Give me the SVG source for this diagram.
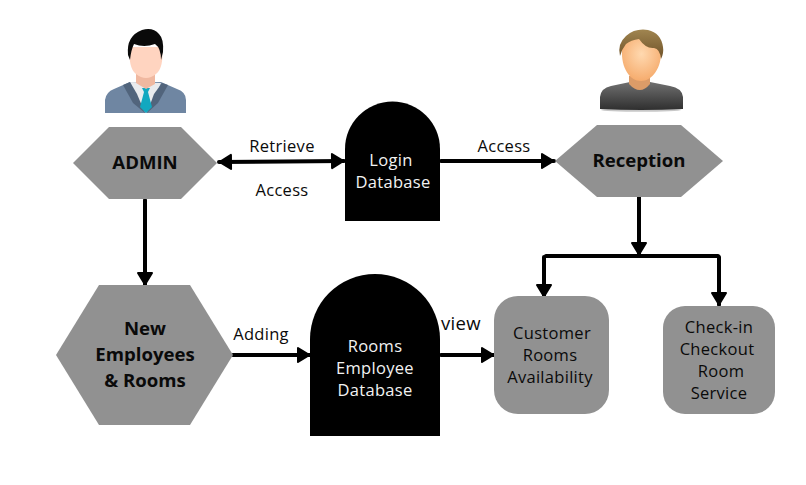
<svg xmlns="http://www.w3.org/2000/svg" width="806" height="485" viewBox="0 0 806 485">
<style>
text{font-family:"Open Sans","Noto Sans","Liberation Sans",sans-serif;text-anchor:middle;fill:#0a0a0a;font-size:16.5px;letter-spacing:.3px}
.b{font-weight:700;font-size:18.6px;letter-spacing:0}
.w{fill:#f2f2f2}
.g{fill:#919191}
.k{fill:#000}
.c{stroke:#000;stroke-width:4;fill:none;stroke-linecap:round}
</style>
<defs>
<marker id="a" markerUnits="userSpaceOnUse" markerWidth="16" markerHeight="18" refX="15" refY="9" orient="auto-start-reverse"><path d="M3 2L14.500 9L3 16Z" fill="#000" stroke="#000" stroke-width="2" stroke-linejoin="round"/></marker>
<linearGradient id="shirt" x1="0" y1="0" x2="0" y2="1"><stop offset="0" stop-color="#707070"/><stop offset="1" stop-color="#2f2f2f"/></linearGradient>
<radialGradient id="face" cx=".5" cy=".4" r=".65"><stop offset="0" stop-color="#ffd9b0"/><stop offset="1" stop-color="#f5a868"/></radialGradient>
<linearGradient id="hair" x1="0" y1="0" x2="0" y2="1"><stop offset="0" stop-color="#a08550"/><stop offset="1" stop-color="#6e5128"/></linearGradient>
</defs>
<rect width="806" height="485" fill="#fff"/>
<g id="admin-figure">
<path d="M105 113V100Q106 92 114 89L130 82H161L177 89Q186 92 186 100V113Z" fill="#6f86a2"/>
<path d="M130 82L161 83L152 104L146 113L139 104Z" fill="#e9ebee"/>
<path d="M130 82L123 85L133 103L145 113L137 94Z" fill="#51647c"/>
<path d="M162 83L168 85L158 103L147 113L154 94Z" fill="#51647c"/>
<path d="M142 88H150L148 92L152 107L146 113L140 107L144 92Z" fill="#12a8c0"/>
<path d="M136 70H155V84L146 89L136 83Z" fill="#f0b8a0"/>
<path d="M130 47H162Q164 68 156 74Q146 82 136 74Q128 68 130 47Z" fill="#ffd4c0"/>
<path d="M128 55Q126 36 142 30Q153 27 159 34Q164 39 163 52L161 60Q161 48 155 44Q144 48 134 44Q131 50 130 60Z" fill="#0a0a0a"/>
</g>
<g id="reception-figure">
<ellipse cx="641" cy="110" rx="40" ry="1.800" fill="#c8c8c8"/>
<path d="M600 109V97Q601 88 611 86L630 82H650L670 86Q682 88 683 97V109Q641 111 600 109Z" fill="url(#shirt)"/>
<path d="M629 76H650V84Q640 96 629 84Z" fill="#dc9c68"/>
<path d="M622 50C621 68 630 81 641 81C652 81 662 68 661 50C661 38 651 36 641 36C631 36 622 38 622 50Z" fill="url(#face)"/>
<path d="M620 56Q617 44 626 36Q635 28 648 30Q661 33 663 47Q664 53 661 59Q660 49 654 48Q646 49 639 39Q631 40 626 44Q622 49 620 56Z" fill="url(#hair)"/>
</g>
<g id="connectors">
<path class="c" d="M219 162L344 161" marker-start="url(#a)" marker-end="url(#a)"/>
<path class="c" d="M441 161L554 161" marker-end="url(#a)"/>
<path class="c" d="M145 200L145 285" marker-end="url(#a)"/>
<path class="c" d="M233 355L310 355" marker-end="url(#a)"/>
<path class="c" d="M441 355L494 355" marker-end="url(#a)"/>
<path class="c" d="M639 197V255" marker-end="url(#a)"/>
<path class="c" d="M546 256H718"/>
<path class="c" d="M544 257V297" marker-end="url(#a)"/>
<path class="c" d="M719 257V305" marker-end="url(#a)"/>
</g>
<g id="admin"><path class="g" d="M73 163L109 127H181L217 163L181 199H109Z"/><text class="b" x="145" y="169">ADMIN</text></g>
<g id="login-db"><path class="k" d="M345 221V149A47.500 47.500 0 0 1 440 149V221Z"/><text class="w" x="391" y="166">Login</text><text class="w" x="393" y="188">Database</text></g>
<g id="reception"><path class="g" d="M555 161L597 125H681L723 161L681 197H597Z"/><text class="b" x="639" y="167">Reception</text></g>
<g id="new-employees"><path class="g" d="M56 355L99 285H190L233 355L190 425H99Z"/><text class="b" x="145" y="335">New</text><text class="b" x="145" y="361">Employees</text><text class="b" x="145" y="387">&amp; Rooms</text></g>
<g id="rooms-db"><path class="k" d="M310 436V339A65 65 0 0 1 440 339V436Z"/><text class="w" x="375" y="352">Rooms</text><text class="w" x="375" y="374">Employee</text><text class="w" x="375" y="396">Database</text></g>
<g id="customer-rooms"><rect class="g" x="494" y="296" width="115" height="118" rx="24"/><text x="552" y="339">Customer</text><text x="550" y="361">Rooms</text><text x="550" y="383">Availability</text></g>
<g id="services"><rect class="g" x="663" y="306" width="112" height="108" rx="22"/><text x="719" y="333">Check-in</text><text x="717" y="355">Checkout</text><text x="721" y="377">Room</text><text x="719" y="399">Service</text></g>
<g id="labels">
<text x="282" y="152">Retrieve</text><text x="282" y="196">Access</text><text x="504" y="152">Access</text><text x="261" y="340">Adding</text><text x="461" y="330" style="font-size:18.5px">view</text>
</g>
</svg>
